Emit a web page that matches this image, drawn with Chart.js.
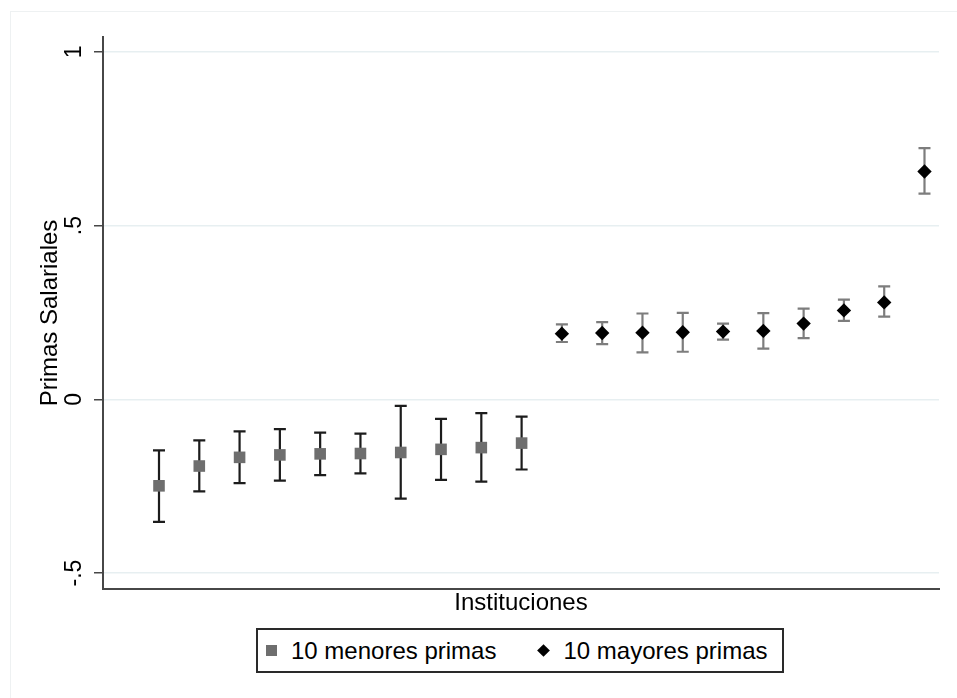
<!DOCTYPE html>
<html>
<head>
<meta charset="utf-8">
<script src="https://cdn.jsdelivr.net/npm/chart.js@4/dist/chart.umd.min.js"></script>
<style>
    html, body { margin: 0; padding: 0; background: #fff; }
    #wrap { position: relative; width: 957px; height: 698px; }
    #legend {
        position: absolute; left: 256px; top: 628px; width: 528px; height: 45px;
        box-sizing: border-box; border: 2px solid #2a2a2a; background: #fff;
        font-family: "Liberation Sans", Arial, sans-serif; font-size: 24px; color: #000;
        display: flex; align-items: center; padding-left: 8px;
    }
    .item { display: flex; align-items: center; }
    .sq { width: 11px; height: 11px; background: #6e6e6e; margin-right: 14px; }
    .dm { width: 9px; height: 9px; background: #000; transform: rotate(45deg); margin: 0 15px 0 2px; }
    .gap { width: 41px; }
</style>
</head>
<body>
<div id="wrap">
    <canvas id="chart" width="957" height="698"></canvas>
    <div id="legend"></div>
</div>
<script>
// Institutions, ordered by estimated salary premium
const menoresX = [1, 2, 3, 4, 5, 6, 7, 8, 9, 10];
const menoresY = [-0.249, -0.192, -0.167, -0.160, -0.157, -0.156, -0.153, -0.144, -0.139, -0.126];
const menoresLo = [-0.353, -0.265, -0.241, -0.234, -0.218, -0.213, -0.286, -0.232, -0.237, -0.202];
const menoresHi = [-0.147, -0.118, -0.092, -0.086, -0.096, -0.099, -0.019, -0.056, -0.040, -0.050];

const mayoresX = [11, 12, 13, 14, 15, 16, 17, 18, 19, 20];
const mayoresY = [0.189, 0.191, 0.192, 0.193, 0.195, 0.197, 0.218, 0.256, 0.279, 0.656];
const mayoresLo = [0.165, 0.159, 0.135, 0.137, 0.172, 0.146, 0.176, 0.226, 0.238, 0.592];
const mayoresHi = [0.216, 0.222, 0.247, 0.249, 0.218, 0.248, 0.261, 0.287, 0.325, 0.723];

const yTickValues = [-0.5, 0, 0.5, 1];
const yTickLabels = ['-.5', '0', '.5', '1'];

const seriesLabels = ['10 menores primas', '10 mayores primas'];

const FONT = '"Liberation Sans", Arial, sans-serif';

const toPoints = (xs, ys) => xs.map((x, i) => ({ x, y: ys[i] }));

// error bars drawn under the markers
const errorBars = {
    id: 'errorBars',
    beforeDatasetsDraw(chart) {
        const { ctx, scales: { x, y } } = chart;
        const groups = [
            { xs: menoresX, lo: menoresLo, hi: menoresHi, color: '#1c1c1c' },
            { xs: mayoresX, lo: mayoresLo, hi: mayoresHi, color: '#7d7d7d' }
        ];
        ctx.save();
        ctx.lineWidth = 2.2;
        for (const g of groups) {
            ctx.strokeStyle = g.color;
            g.xs.forEach((xv, i) => {
                const px = x.getPixelForValue(xv);
                const top = y.getPixelForValue(g.hi[i]);
                const bot = y.getPixelForValue(g.lo[i]);
                ctx.beginPath();
                ctx.moveTo(px, top); ctx.lineTo(px, bot);
                ctx.moveTo(px - 6, top); ctx.lineTo(px + 6, top);
                ctx.moveTo(px - 6, bot); ctx.lineTo(px + 6, bot);
                ctx.stroke();
            });
        }
        ctx.restore();
    }
};

// background, faint outer frame and vertical y tick labels
const decor = {
    id: 'decor',
    beforeDraw(chart) {
        const { ctx, width, height } = chart;
        ctx.save();
        ctx.fillStyle = '#fff';
        ctx.fillRect(0, 0, width, height);
        ctx.strokeStyle = '#eef1f2';
        ctx.lineWidth = 1;
        ctx.strokeRect(10.5, 11.5, width + 20, height + 20);
        ctx.restore();
    },
    afterDraw(chart) {
        const { ctx, scales: { y } } = chart;
        ctx.save();
        ctx.fillStyle = '#000';
        ctx.font = '23px ' + FONT;
        ctx.textAlign = 'center';
        ctx.textBaseline = 'middle';
        yTickValues.forEach((v, i) => {
            ctx.save();
            ctx.translate(75, y.getPixelForValue(v));
            ctx.rotate(-Math.PI / 2);
            ctx.fillText(yTickLabels[i], 0, 0);
            ctx.restore();
        });
        ctx.restore();
    }
};

new Chart(document.getElementById('chart'), {
    type: 'scatter',
    data: {
        datasets: [
            {
                label: seriesLabels[0],
                data: toPoints(menoresX, menoresY),
                pointStyle: 'rect',
                pointRadius: 8.2,
                pointHoverRadius: 8.2,
                backgroundColor: '#6e6e6e',
                borderColor: '#6e6e6e',
                borderWidth: 0
            },
            {
                label: seriesLabels[1],
                data: toPoints(mayoresX, mayoresY),
                pointStyle: 'rectRot',
                pointRadius: 7.2,
                pointHoverRadius: 7.2,
                backgroundColor: '#000',
                borderColor: '#000',
                borderWidth: 0
            }
        ]
    },
    options: {
        responsive: false,
        animation: false,
        layout: { padding: { left: 0, top: 37, right: 18, bottom: 69 } },
        plugins: { legend: { display: false }, tooltip: { enabled: false } },
        scales: {
            x: {
                type: 'linear',
                min: -0.39,
                max: 20.36,
                grid: { display: false, drawTicks: false },
                border: { display: true, color: '#474747', width: 2 },
                ticks: { display: false },
                title: {
                    display: true, text: 'Instituciones', color: '#000',
                    font: { family: FONT, size: 24 },
                    padding: { top: 0, bottom: 11 }
                },
                afterFit: s => { s.height = 40; }
            },
            y: {
                type: 'linear',
                min: -0.546,
                max: 1.043,
                afterBuildTicks: s => { s.ticks = yTickValues.map(v => ({ value: v })); },
                grid: { color: '#e7eff1', lineWidth: 1.5, tickColor: '#474747', tickLength: 9, drawTicks: true },
                border: { display: true, color: '#474747', width: 2 },
                ticks: { display: false },
                title: {
                    display: true, text: 'Primas Salariales', color: '#000',
                    font: { family: FONT, size: 24 },
                    padding: { top: 36, bottom: 0 }
                },
                afterFit: s => { s.width = 103; }
            }
        }
    },
    plugins: [errorBars, decor]
});

// legend, boxed below the x axis title
const legend = document.getElementById('legend');
legend.innerHTML =
    '<div class="item"><div class="sq"></div><span>' + seriesLabels[0] + '</span></div>' +
    '<div class="gap"></div>' +
    '<div class="item"><div class="dm"></div><span>' + seriesLabels[1] + '</span></div>';
</script>
</body>
</html>
